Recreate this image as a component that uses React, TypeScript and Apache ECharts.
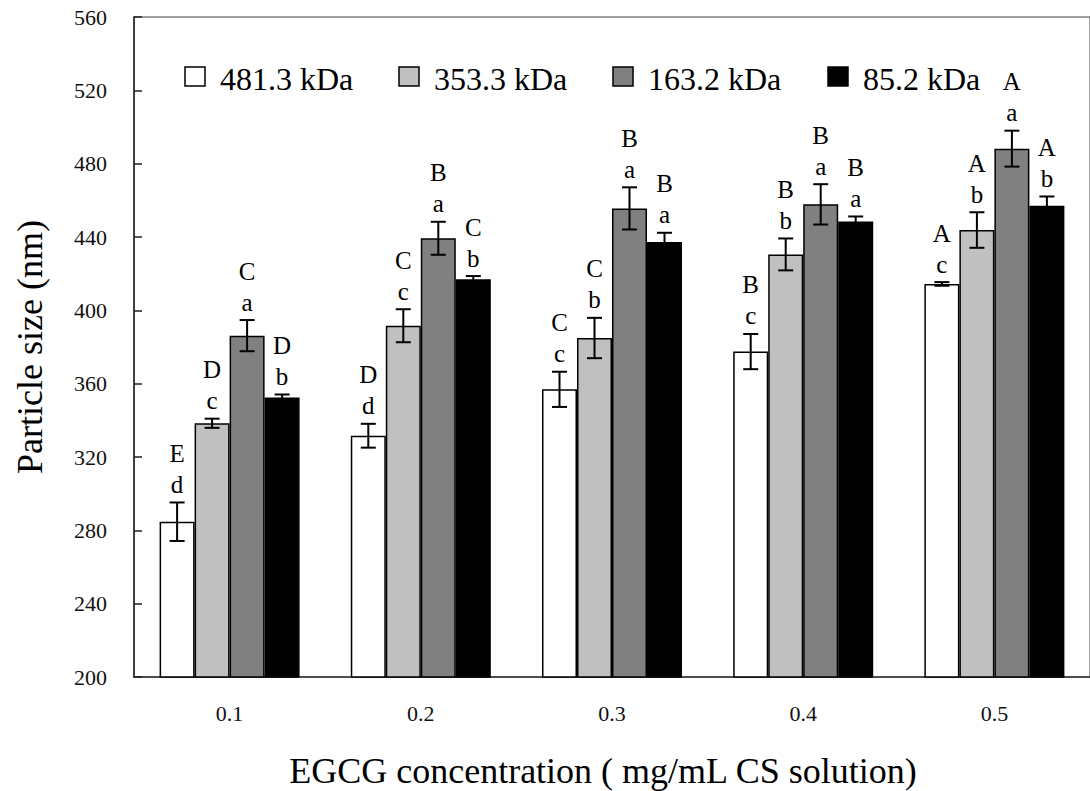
import React, { useEffect, useRef } from "react";
import * as echarts from "echarts";

const categories = ["0.1", "0.2", "0.3", "0.4", "0.5"];
const seriesNames = ["481.3 kDa", "353.3 kDa", "163.2 kDa", "85.2 kDa"];
const size481 = [284.7, 331.6, 356.9, 377.5, 414.4];
const size353 = [338.4, 391.6, 384.9, 430.5, 443.8];
const size163 = [386.2, 439.3, 455.6, 457.8, 488.2];
const size85 = [352.5, 416.9, 437.3, 448.4, 457.1];
const err481 = [10.5, 6.5, 9.6, 9.6, 1.0];
const err353 = [2.5, 9.0, 11.0, 8.7, 9.7];
const err163 = [8.5, 9.0, 11.5, 11.0, 9.8];
const err85 = [1.6, 1.8, 5.0, 2.8, 5.0];
const lower481 = ["d", "d", "c", "c", "c"];
const lower353 = ["c", "c", "b", "b", "b"];
const lower163 = ["a", "a", "a", "a", "a"];
const lower85 = ["b", "b", "a", "a", "b"];
const upper481 = ["E", "D", "C", "B", "A"];
const upper353 = ["D", "C", "C", "B", "A"];
const upper163 = ["C", "B", "B", "B", "A"];
const upper85 = ["D", "C", "B", "B", "A"];
const yTicks = { min: 200, max: 560, interval: 40 };
const xTitle = "EGCG concentration ( mg/mL CS solution)";
const yTitle = "Particle size (nm)";

const colors = ["#ffffff", "#c0c0c0", "#808080", "#000000"];
const FONT = "serif";
const BAR_W = 35;
const LEGEND_X = [185, 399, 613, 828];

export default function App() {
  const ref = useRef<HTMLDivElement>(null);
  useEffect(() => {
    if (!ref.current) return;
    const chart = echarts.init(ref.current, undefined, { renderer: "svg" });
    const values = [size481, size353, size163, size85];
    const errs = [err481, err353, err163, err85];
    const lowers = [lower481, lower353, lower163, lower85];
    const uppers = [upper481, upper353, upper163, upper85];

    const errData: number[][] = [];
    const letterLookup: { lo: string; up: string }[] = [];
    for (let s = 0; s < 4; s++) {
      for (let c = 0; c < categories.length; c++) {
        errData.push([c, s, values[s][c], errs[s][c]]);
        letterLookup.push({ lo: lowers[s][c], up: uppers[s][c] });
      }
    }

    const legendGraphics: any[] = [];
    seriesNames.forEach((name, i) => {
      legendGraphics.push({
        type: "rect",
        shape: { x: LEGEND_X[i], y: 67, width: 20, height: 19 },
        style: { fill: colors[i], stroke: "#000", lineWidth: 1.5 },
        z: 10,
      });
      legendGraphics.push({
        type: "text",
        x: LEGEND_X[i] + 35,
        y: 79,
        scaleX: 32 / 24,
        scaleY: 32 / 24,
        style: {
          text: name,
          font: "24px " + FONT,
          fill: "#000",
          align: "left",
          verticalAlign: "middle",
        },
        z: 10,
      });
    });

    const option: any = {
      animation: false,
      backgroundColor: "#ffffff",
      textStyle: { fontFamily: FONT },
      grid: {
        left: 134,
        top: 17,
        width: 957,
        height: 660,
        show: true,
        borderColor: "#808080",
        borderWidth: 1.5,
        containLabel: false,
      },
      graphic: [
        ...legendGraphics,
        {
          type: "text",
          x: 603,
          y: 771,
          scaleX: 1.5,
          scaleY: 1.5,
          style: {
            text: xTitle,
            font: "24px " + FONT,
            fill: "#000",
            align: "center",
            verticalAlign: "middle",
          },
        },
      ],
      xAxis: {
        type: "category",
        data: categories,
        axisLine: { lineStyle: { color: "#333", width: 1.5 } },
        axisTick: { inside: true, length: 8, lineStyle: { color: "#333", width: 1.5 } },
        axisLabel: { fontFamily: FONT, fontSize: 22, color: "#111", margin: 25 },
      },
      yAxis: {
        type: "value",
        min: yTicks.min,
        max: yTicks.max,
        interval: yTicks.interval,
        name: yTitle,
        nameLocation: "middle",
        nameGap: 104,
        nameTextStyle: {
          fontFamily: FONT,
          fontSize: 36,
          color: "#000",
          verticalAlign: "middle",
        },
        axisLine: { show: true, lineStyle: { color: "#222", width: 1.5 } },
        axisTick: { show: true, inside: true, length: 8, lineStyle: { color: "#222", width: 1.5 } },
        axisLabel: { fontFamily: FONT, fontSize: 22, color: "#111", margin: 27 },
        splitLine: { show: false },
      },
      series: [
        ...seriesNames.map((name, i) => ({
          name,
          type: "bar",
          data: values[i],
          barWidth: BAR_W,
          barGap: "0%",
          itemStyle: { color: colors[i], borderColor: "#000", borderWidth: 1.5 },
          z: 2,
        })),
        {
          type: "custom",
          name: "error",
          data: errData,
          z: 5,
          silent: true,
          renderItem: (params: any, api: any) => {
            const c = api.value(0);
            const s = api.value(1);
            const v = api.value(2);
            const e = api.value(3);
            const top = api.coord([c, v + e]);
            const bot = api.coord([c, v - e]);
            const x = top[0] + (s - 1.5) * BAR_W;
            const lt = letterLookup[params.dataIndex];
            const stroke = { stroke: "#000", lineWidth: 2 };
            return {
              type: "group",
              children: [
                { type: "line", shape: { x1: x, y1: top[1], x2: x, y2: bot[1] }, style: stroke },
                { type: "line", shape: { x1: x - 7.5, y1: top[1], x2: x + 7.5, y2: top[1] }, style: stroke },
                { type: "line", shape: { x1: x - 7.5, y1: bot[1], x2: x + 7.5, y2: bot[1] }, style: stroke },
                {
                  type: "text",
                  x,
                  y: top[1] - 18,
                  style: {
                    text: lt.lo,
                    font: "25px " + FONT,
                    fill: "#000",
                    align: "center",
                    verticalAlign: "middle",
                  },
                },
                {
                  type: "text",
                  x,
                  y: top[1] - 49,
                  style: {
                    text: lt.up,
                    font: "25px " + FONT,
                    fill: "#000",
                    align: "center",
                    verticalAlign: "middle",
                  },
                },
              ],
            };
          },
        },
      ],
    };
    chart.setOption(option);
    return () => chart.dispose();
  }, []);
  return (
    <div
      ref={ref}
      style={{ position: "absolute", left: 0, top: 0, width: 1090, height: 791, background: "#fff" }}
    />
  );
}
